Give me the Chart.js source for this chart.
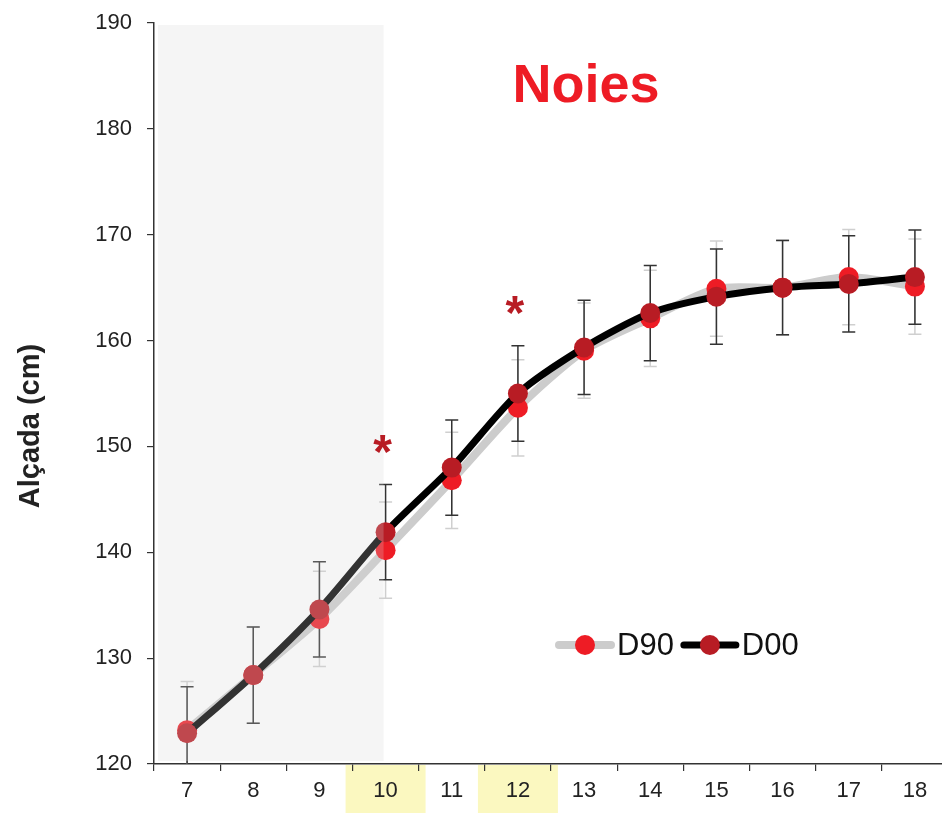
<!DOCTYPE html>
<html>
<head>
<meta charset="utf-8">
<title>Alçada — Noies</title>
<script src="https://cdn.jsdelivr.net/npm/chart.js@4.4.1/dist/chart.umd.min.js"></script>
<style>
  html, body { margin: 0; padding: 0; background: #fff; overflow: hidden; width: 942px; height: 813px; }
  #wrap { position: relative; width: 960px; height: 813px; }
</style>
</head>
<body>
<div id="wrap"><canvas id="c" width="960" height="813"></canvas></div>
<script>
// Ages (years) on the x axis
const ages = ['7', '8', '9', '10', '11', '12', '13', '14', '15', '16', '17', '18'];

// Mean height (cm) and standard deviation per age, cohort D90
const d90Mean = [123.2, 128.4, 133.7, 140.2, 146.8, 153.65, 159.05, 162.1, 164.9, 165.0, 166.0, 165.1];
const d90Sd   = [4.6, 4.55, 4.5, 4.55, 4.55, 4.55, 4.5, 4.55, 4.5, 4.5, 4.5, 4.5];

// Mean height (cm) and standard deviation per age, cohort D00
const d00Mean = [122.9, 128.4, 134.6, 141.9, 148.0, 155.0, 159.35, 162.6, 164.15, 165.0, 165.35, 166.0];
const d00Sd   = [4.4, 4.55, 4.5, 4.5, 4.5, 4.5, 4.45, 4.5, 4.5, 4.45, 4.55, 4.45];

// Y axis tick values
const yTicks = [120, 130, 140, 150, 160, 170, 180, 190];

// Ages with a highlighted label, ages marked as significant, end of the shaded band
const highlightedAges = ['10', '12'];
const significantAges = ['10', '12'];
const shadedUntilAge = '10';

const chartTitle = 'Noies';
const yTitle = 'Alçada (cm)';

const FONT = '"Liberation Sans", Arial, Helvetica, sans-serif';
const RED = '#ee1c25';
const DARK_RED = '#b81c24';

const series = [
  { label: 'D90', mean: d90Mean, sd: d90Sd, line: '#cccccc', lineWidth: 8, point: RED, bar: '#cfcfcf' },
  { label: 'D00', mean: d00Mean, sd: d00Sd, line: '#000000', lineWidth: 7, point: DARK_RED, bar: '#333333' }
];

const decorations = {
  id: 'decorations',
  beforeDraw(chart) {
    // yellow boxes behind selected x labels
    const { ctx, scales: { x } } = chart;
    ctx.save();
    ctx.fillStyle = '#fbf8c0';
    highlightedAges.forEach(a => {
      const px = x.getPixelForValue(ages.indexOf(a));
      ctx.fillRect(px - 40, x.top + 1, 80, chart.height - x.top);
    });
    ctx.restore();
  },
  beforeDatasetsDraw(chart) {
    // error bars (mean ± sd), clipped to the plot area
    const { ctx, chartArea: ca, scales: { x, y } } = chart;
    ctx.save();
    ctx.beginPath();
    ctx.rect(ca.left, ca.top - 10, ca.right - ca.left, ca.bottom - ca.top + 10);
    ctx.clip();
    ctx.lineWidth = 1.5;
    series.forEach(s => {
      ctx.strokeStyle = s.bar;
      s.mean.forEach((m, i) => {
        const px = x.getPixelForValue(i);
        const top = y.getPixelForValue(m + s.sd[i]);
        const bot = y.getPixelForValue(m - s.sd[i]);
        ctx.beginPath();
        ctx.moveTo(px, top); ctx.lineTo(px, bot);
        ctx.moveTo(px - 6.5, top); ctx.lineTo(px + 6.5, top);
        ctx.moveTo(px - 6.5, bot); ctx.lineTo(px + 6.5, bot);
        ctx.stroke();
      });
    });
    ctx.restore();
  },
  afterDatasetsDraw(chart) {
    const { ctx, chartArea: ca, scales: { x, y } } = chart;
    ctx.save();

    // translucent grey band over the early ages
    const x0 = ca.left + 4;
    const x1 = x.getPixelForValue(ages.indexOf(shadedUntilAge)) - 2;
    const y0 = y.getPixelForValue(190) + 2;
    const y1 = y.getPixelForValue(120) - 3;
    ctx.fillStyle = 'rgba(213,213,213,0.24)';
    ctx.fillRect(x0, y0, x1 - x0, y1 - y0);

    // significance asterisks above the error bars
    ctx.fillStyle = DARK_RED;
    ctx.font = `bold 48px ${FONT}`;
    ctx.textAlign = 'center';
    ctx.textBaseline = 'alphabetic';
    significantAges.forEach(a => {
      const i = ages.indexOf(a);
      const top = Math.max(d90Mean[i] + d90Sd[i], d00Mean[i] + d00Sd[i]);
      const py = y.getPixelForValue(top) - 40;
      ctx.fillText('*', x.getPixelForValue(i) - 3, py + 23);
    });

    // chart title
    ctx.fillStyle = RED;
    ctx.font = `bold 54px ${FONT}`;
    ctx.textAlign = 'center';
    ctx.textBaseline = 'middle';
    ctx.fillText(chartTitle, 586, 87);

    // y axis title
    ctx.save();
    ctx.translate(31, 426);
    ctx.rotate(-Math.PI / 2);
    ctx.fillStyle = '#222222';
    ctx.font = `bold 29px ${FONT}`;
    ctx.textAlign = 'center';
    ctx.textBaseline = 'middle';
    ctx.fillText(yTitle, 0, 0);
    ctx.restore();

    // legend: line sample + dot + label for each series
    let lx = 556;
    const ly = 645;
    ctx.font = `31px ${FONT}`;
    ctx.textAlign = 'left';
    ctx.textBaseline = 'middle';
    series.forEach(s => {
      ctx.strokeStyle = s.line;
      ctx.lineWidth = s.lineWidth;
      ctx.lineCap = 'round';
      ctx.beginPath();
      ctx.moveTo(lx + 3, ly); ctx.lineTo(lx + 55, ly);
      ctx.stroke();
      ctx.fillStyle = s.point;
      ctx.beginPath();
      ctx.arc(lx + 29, ly, 10, 0, Math.PI * 2);
      ctx.fill();
      ctx.fillStyle = '#111111';
      ctx.fillText(s.label, lx + 61, ly + 1);
      lx += 61 + ctx.measureText(s.label).width + 7;
    });
    ctx.restore();
  }
};

new Chart(document.getElementById('c'), {
  type: 'line',
  data: {
    labels: ages,
    datasets: series.map((s, k) => ({
      label: s.label,
      data: s.mean,
      borderColor: s.line,
      borderWidth: s.lineWidth,
      borderJoinStyle: 'round',
      borderCapStyle: 'round',
      pointRadius: 10,
      pointHoverRadius: 10,
      pointBorderWidth: 0,
      pointBackgroundColor: s.point,
      tension: 0.25,
      fill: false,
      order: series.length - k
    }))
  },
  options: {
    responsive: false,
    animation: false,
    devicePixelRatio: 1,
    layout: { padding: { top: 23, right: 12, bottom: 0, left: 0 } },
    plugins: { legend: { display: false }, tooltip: { enabled: false }, title: { display: false } },
    events: [],
    scales: {
      x: {
        type: 'category',
        offset: true,
        grid: { display: true, offset: true, drawOnChartArea: false, drawTicks: true, tickLength: 7, color: '#333333', lineWidth: 1.2 },
        border: { display: true, color: '#333333', width: 1.5 },
        ticks: { color: '#222222', font: { family: FONT, size: 22 }, padding: 7, maxRotation: 0, autoSkip: false },
        afterFit(scale) { scale.height = 49; scale.paddingLeft = 0; scale.paddingRight = 0; }
      },
      y: {
        min: 120,
        max: 190,
        afterBuildTicks(scale) { scale.ticks = yTicks.map(v => ({ value: v })); },
        grid: { display: true, drawOnChartArea: false, drawTicks: true, tickLength: 7, color: '#333333', lineWidth: 1.2 },
        border: { display: true, color: '#333333', width: 1.5 },
        ticks: { color: '#222222', font: { family: FONT, size: 22 }, padding: 15 },
        afterFit(scale) { scale.width = 154; scale.paddingTop = 0; scale.paddingBottom = 0; }
      }
    }
  },
  plugins: [decorations]
});
</script>
</body>
</html>
